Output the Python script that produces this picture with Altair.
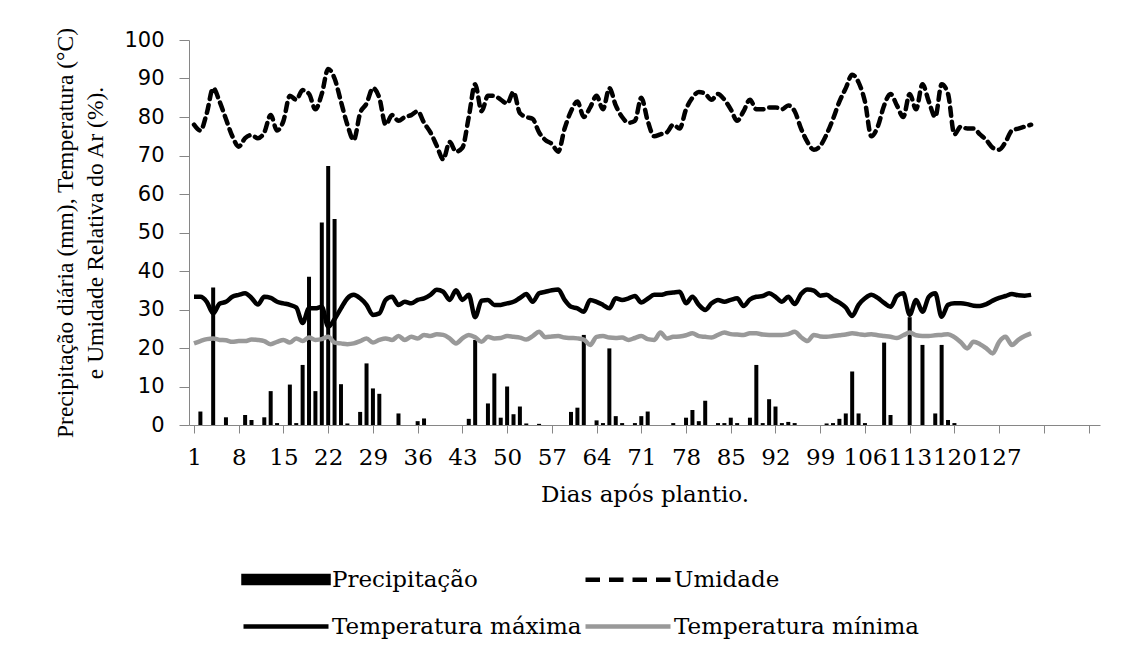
import altair as alt
import pandas as pd
import numpy as np

days = list(range(1, 133))

precipitacao = [
    0, 3.5, 0, 35.7, 0, 2.0, 0, 0, 2.6, 1.3,
    0, 2.0, 8.8, 0.5, 0, 10.5, 0.5, 15.6, 38.5, 8.8,
    52.6, 67.3, 53.5, 10.6, 0.4, 0, 3.4, 16.0, 9.5, 8.1,
    0, 0, 3.0, 0, 0, 1.0, 1.7, 0, 0, 0,
    0, 0, 0, 1.6, 22.1, 0, 5.6, 13.4, 1.9, 10.0,
    2.8, 4.8, 0.4, 0, 0.3, 0, 0, 0, 0, 3.4,
    4.5, 23.4, 0, 1.2, 0.5, 19.9, 2.3, 0.5, 0, 0.5,
    2.3, 3.5, 0, 0, 0, 0.5, 0, 1.9, 3.9, 1.0,
    6.3, 0, 0.5, 0.5, 1.9, 0.5, 0, 1.9, 15.6, 0.5,
    6.7, 4.8, 0.5, 0.8, 0.5, 0, 0, 0, 0, 0.4,
    0.5, 1.6, 3.0, 13.9, 3.0, 0.5, 0, 0, 21.4, 2.6,
    0, 0, 28.0, 0, 20.8, 0, 3.0, 20.8, 1.3, 0.5,
    0, 0, 0, 0, 0, 0, 0, 0, 0, 0, 0, 0,
]

umidade = [
    78, 76.5, 81, 87.5, 84, 79.5, 75, 72.3, 74.5, 75.3,
    74.5, 76, 80.5, 76.5, 79, 85.5, 84.5, 87, 86, 82,
    86, 92.5, 90, 84, 78, 74, 81, 83.5, 87.5, 85,
    78, 80.5, 79, 80, 80.5, 81.5, 78.5, 76, 72.5, 69,
    73.5, 71, 72, 80, 88.5, 81.5, 85.5, 85.5, 84.5, 83.5,
    86.5, 81, 80, 79.5, 76, 74, 73, 71, 77, 81.5,
    84, 80, 82.5, 85.5, 82, 87.5, 83, 80, 78.5, 79,
    85, 79, 75, 75.5, 76, 78, 77, 82, 85, 86.5,
    86, 84.5, 86, 84.5, 82, 79, 81.5, 84.5, 82, 82,
    82.5, 82.5, 82, 83, 81.5, 77, 73.5, 71.5, 72.5, 75.5,
    79.5, 84, 87.5, 91, 89, 84, 75, 77.5, 83, 86,
    83, 80, 86, 82, 88.5, 84, 80, 88.5, 86, 75.5,
    77.5, 77, 77, 75.5, 74, 72, 71.5, 73.5, 76.5, 77, 77.5, 78,
]

temp_max = [
    33.3, 33.3, 32, 29, 31.5, 32, 33.3, 33.8, 34.2, 33,
    31.3, 33.3, 33, 32, 31.6, 31.2, 30.5, 26.5, 30.3, 30.3,
    30.7, 25.5, 27.5, 30.3, 32.9, 33.8, 32.9, 31.2, 28.6, 29,
    32.5, 33.3, 31.2, 32, 31.6, 32.5, 32.9, 33.8, 35.1, 34.6,
    32.5, 35, 32.5, 33.8, 28, 32.3, 32.5, 31.2, 31.2, 31.6,
    32, 33, 34, 32, 34.2, 34.6, 35, 35.2, 32.5, 30.7,
    30.3, 29.4, 32.5, 32, 31.2, 30.3, 32.9, 32.5, 32.9, 33.5,
    31.8, 32.8, 33.8, 33.8, 34.2, 34.4, 34.6, 31.6, 33.3, 31.2,
    29.9, 31.6, 32.5, 32, 32.5, 32.9, 30.9, 32.6, 33.3, 33.5,
    34.2, 33.3, 32, 33.3, 31.4, 34, 35.2, 34.9, 33.6, 33.8,
    32.7, 31.8, 30.5, 28.3, 31.2, 32.9, 33.8, 33, 31.7, 30.7,
    33.5, 34.2, 28.6, 32.5, 29.4, 33.3, 34.2, 28.1, 31.2, 31.6,
    31.6, 31.4, 31, 30.9, 31.4, 32.3, 33, 33.5, 34, 33.7, 33.6, 33.8,
]

temp_min = [
    21.2, 21.8, 22.3, 22.5, 22.1, 22, 21.6, 21.8, 21.8, 22.2,
    22.1, 21.8, 21, 21.6, 22.1, 21.4, 22.5, 21.8, 22.7, 22.1,
    22.3, 22.9, 21.4, 21.2, 21, 21.2, 21.8, 22.5, 21.4, 22.1,
    22.5, 22.1, 23.1, 22.1, 22.9, 22.5, 23.4, 23.1, 23.6, 23.4,
    22.5, 21.2, 22.5, 23.4, 22.8, 21.6, 22.9, 22.5, 22.6, 23.1,
    22.9, 22.7, 22.2, 23.1, 24.2, 22.8, 23, 23.1, 22.7, 22.6,
    22.5, 22.2, 20.8, 22.9, 23.1, 22.7, 22.6, 22.7, 22.1, 22.6,
    23.1, 22.3, 22.1, 24, 22.5, 22.9, 23, 23.3, 23.8, 23.1,
    22.9, 22.7, 23.4, 24, 23.6, 23.5, 23.4, 23.8, 23.8, 23.5,
    23.4, 23.4, 23.4, 23.6, 24.2, 22.8, 21.8, 23.4, 23, 22.9,
    23.1, 23.3, 23.5, 23.8, 23.6, 23.4, 23.6, 23.3, 23.1, 22.9,
    22.6, 23.3, 24, 23.3, 23.1, 23.1, 23.3, 23.4, 23.6, 22.8,
    21.5, 19.9, 21.6, 21, 19.9, 18.6, 21.6, 22.9, 20.8, 22.1, 23.1, 23.8,
]

x_ticks = list(range(1, 142, 7))
x_last_label = 127
y_ticks = list(range(0, 101, 10))

series = ["Precipitação", "Umidade", "Temperatura máxima", "Temperatura mínima"]
series_colors = ["#000000", "#000000", "#000000", "#999999"]
# legend swatches (unit = 10 px because symbolSize = 400)
series_shapes = [
    "M-1,-0.35H7.5V0.35H-1ZM-1,0H7.5",
    "M-1,0H0.45M1.35,0H2.8M3.7,0H5.15M6.05,0H7.5",
    "M-1,0H7.5",
    "M-1,0H7.5",
]

df = pd.DataFrame({
    "dia": days,
    "precip": precipitacao,
    "umid": umidade,
    "tmax": temp_max,
    "tmin": temp_min,
})
legend_df = pd.DataFrame({"serie": series, "dia": [1] * 4, "v": [np.nan] * 4})

x_enc = alt.X(
    "dia:Q",
    scale=alt.Scale(domain=[1, 142], nice=False, zero=False),
    axis=alt.Axis(
        values=x_ticks,
        labelExpr=f"datum.value <= {x_last_label} ? datum.label : ''",
        labelFlush=False,
        labelOverlap=False,
        labelFont="DejaVu Serif",
        labelFontSize=23,
        labelPadding=13,
        tickSize=8,
        title="Dias após plantio.",
        titleFont="DejaVu Serif",
        titleFontSize=23,
        titleBaseline="alphabetic",
        titleY=76,
    ),
)

y_axis = alt.Axis(
    values=y_ticks,
    labelFont="DejaVu Sans",
    labelFontSize=21,
    labelPadding=15,
    tickSize=10,
    title=["Precipitação diária (mm), Temperatura (°C)", "e Umidade Relativa do Ar (%)."],
    titleFont="Liberation Serif",
    titleFontSize=23.5,
    titleLineHeight=30,
    titleAngle=270,
    titleAlign="center",
    titleBaseline="alphabetic",
    titleX=-117,
    titleY=192.5,
)
y_scale = alt.Scale(domain=[0, 100], nice=False)

base = alt.Chart(df)

bars = base.mark_bar(size=4, color="black").encode(
    x=x_enc, y=alt.Y("precip:Q", scale=y_scale, axis=y_axis)
)
umid_line = base.mark_line(
    color="black", strokeWidth=4.5, strokeDash=[8, 6], strokeCap="round", interpolate="monotone"
).encode(x=x_enc, y=alt.Y("umid:Q", scale=y_scale, axis=y_axis))
tmax_line = base.mark_line(color="black", strokeWidth=4.5, interpolate="monotone").encode(
    x=x_enc, y=alt.Y("tmax:Q", scale=y_scale, axis=y_axis)
)
tmin_line = base.mark_line(color="#999999", strokeWidth=4.5, interpolate="monotone").encode(
    x=x_enc, y=alt.Y("tmin:Q", scale=y_scale, axis=y_axis)
)

leg = alt.Legend(
    title=None,
    orient="none",
    direction="horizontal",
    legendX=52,
    legendY=527,
    columns=2,
    columnPadding=-6,
    rowPadding=22,
    padding=0,
    symbolSize=400,
    symbolStrokeWidth=4.5,
    symbolOpacity=1,
    labelFont="DejaVu Serif",
    labelFontSize=23,
    labelColor="black",
    labelOffset=66,
    labelLimit=500,
)

legend_layer = alt.Chart(legend_df).mark_point(filled=False, strokeWidth=4.5).encode(
    x=x_enc,
    y=alt.Y("v:Q", scale=y_scale, axis=y_axis),
    color=alt.Color("serie:N", scale=alt.Scale(domain=series, range=series_colors), legend=leg),
    shape=alt.Shape("serie:N", scale=alt.Scale(domain=series, range=series_shapes), legend=leg),
)

chart = alt.layer(bars, umid_line, tmax_line, tmin_line, legend_layer).properties(
    width=911,
    height=385,
    autosize=alt.AutoSizeParams(type="none"),
    padding={"left": 181, "top": 32, "right": 30, "bottom": 218},
    background="white",
).configure_view(strokeWidth=0).configure_axis(
    grid=False,
    domainColor="#868686",
    tickColor="#868686",
    domainWidth=1,
    labelColor="black",
    titleColor="black",
    titleFontWeight="normal",
)

chart.save("out.html", embed_options={"renderer": "svg", "actions": False})
